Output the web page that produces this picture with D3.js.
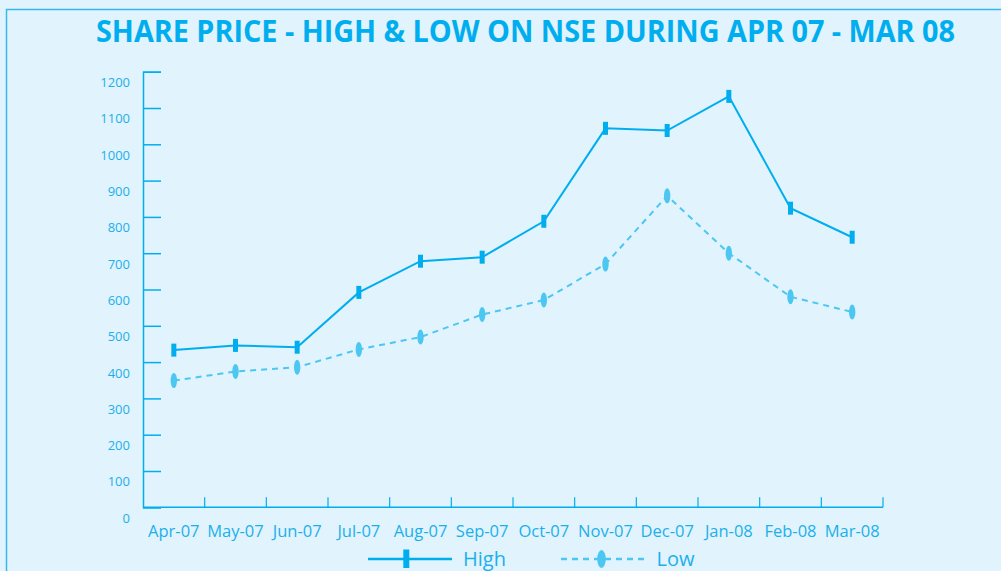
<!DOCTYPE html>
<html>
<head>
<meta charset="utf-8">
<script src="https://cdn.jsdelivr.net/npm/d3@7"></script>
<style>
  body { margin: 0; background: #e1f3fc; }
  svg { display: block; font-family: 'Open Sans', sans-serif; }
</style>
</head>
<body>
<div id="chart"></div>
<script>
// data
var months = ['Apr-07', 'May-07', 'Jun-07', 'Jul-07', 'Aug-07', 'Sep-07',
              'Oct-07', 'Nov-07', 'Dec-07', 'Jan-08', 'Feb-08', 'Mar-08'];
var high = [433, 446, 441, 592, 678, 689, 788, 1044, 1038, 1132, 824, 744];
var low = [349, 374, 386, 435, 469, 531, 571, 670, 858, 700, 580, 538];
var y_ticks = [0, 100, 200, 300, 400, 500, 600, 700, 800, 900, 1000, 1100, 1200];

var chart_width = 1001;
var chart_height = 571;
var high_color = '#00aeef';
var low_color = '#4cc7f2';
var text_color = '#1bb0ec';

var svg = d3.select('#chart')
  .append('svg')
  .attr('width', chart_width)
  .attr('height', chart_height);

// background + frame (left and top edges show)
svg.append('rect')
  .attr('width', chart_width)
  .attr('height', chart_height)
  .attr('fill', '#e1f3fc');
svg.append('path')
  .attr('d', 'M6.5,' + chart_height + 'V9.5H' + chart_width)
  .attr('fill', 'none')
  .attr('stroke', '#3ab7ec')
  .attr('stroke-width', 1.5);

// title
svg.append('text')
  .attr('x', 96)
  .attr('y', 42)
  .attr('textLength', 859)
  .attr('lengthAdjust', 'spacingAndGlyphs')
  .attr('font-size', 30)
  .attr('font-weight', 'bold')
  .attr('fill', high_color)
  .text('SHARE PRICE - HIGH & LOW ON NSE DURING APR 07 - MAR 08');

// scales
var x_scale = d3.scaleBand()
  .domain(months)
  .range([143, 883]);

var y_scale = d3.scaleLinear()
  .domain([0, 1200])
  .range([507.3, 71.7]);

// y axis: ticks point inward, labels sit a little below their ticks
var y_axis = svg.append('g')
  .attr('transform', 'translate(143,0)')
  .call(d3.axisLeft(y_scale)
    .tickValues(y_ticks)
    .tickFormat(d3.format('d'))
    .tickSize(-18)
    .tickPadding(13));
y_axis.select('.domain').attr('stroke', high_color).attr('stroke-width', 1.5);
y_axis.selectAll('.tick line').attr('stroke', high_color).attr('stroke-width', 1.5);
y_axis.selectAll('.tick text')
  .attr('fill', text_color)
  .attr('font-size', 13)
  .attr('font-family', "'Open Sans', sans-serif")
  .attr('dy', '1.15em');

// x axis line and boundary ticks
svg.append('line')
  .attr('x1', 143).attr('x2', 883)
  .attr('y1', y_scale(0)).attr('y2', y_scale(0))
  .attr('stroke', high_color)
  .attr('stroke-width', 1.5);

svg.selectAll('.xtick')
  .data(months)
  .enter()
  .append('line')
  .attr('class', 'xtick')
  .attr('x1', (d) => x_scale(d) + x_scale.bandwidth())
  .attr('x2', (d) => x_scale(d) + x_scale.bandwidth())
  .attr('y1', y_scale(0))
  .attr('y2', y_scale(0) - 10)
  .attr('stroke', high_color)
  .attr('stroke-width', 1.2);

svg.selectAll('.xlabel')
  .data(months)
  .enter()
  .append('text')
  .attr('class', 'xlabel')
  .attr('x', (d) => x_scale(d) + x_scale.bandwidth() / 2)
  .attr('y', 537)
  .attr('text-anchor', 'middle')
  .attr('font-size', 16.5)
  .attr('fill', text_color)
  .text((d) => d);

var cx = (d, i) => x_scale(months[i]) + x_scale.bandwidth() / 2;

var line = d3.line()
  .x(cx)
  .y((d) => y_scale(d));

// low series (dashed, ellipse markers)
svg.append('path')
  .datum(low)
  .attr('d', line)
  .attr('fill', 'none')
  .attr('stroke', low_color)
  .attr('stroke-width', 2)
  .attr('stroke-dasharray', '6,5');

svg.selectAll('.low-mark')
  .data(low)
  .enter()
  .append('ellipse')
  .attr('class', 'low-mark')
  .attr('cx', cx)
  .attr('cy', (d) => y_scale(d))
  .attr('rx', 3.2)
  .attr('ry', 7.5)
  .attr('fill', low_color);

// high series (solid, bar markers)
svg.append('path')
  .datum(high)
  .attr('d', line)
  .attr('fill', 'none')
  .attr('stroke', high_color)
  .attr('stroke-width', 2);

svg.selectAll('.high-mark')
  .data(high)
  .enter()
  .append('rect')
  .attr('class', 'high-mark')
  .attr('x', (d, i) => cx(d, i) - 2.5)
  .attr('y', (d) => y_scale(d) - 6.5)
  .attr('width', 5)
  .attr('height', 13)
  .attr('fill', high_color);

// legend
var legend = svg.append('g');
legend.append('line')
  .attr('x1', 368).attr('x2', 452)
  .attr('y1', 559).attr('y2', 559)
  .attr('stroke', high_color)
  .attr('stroke-width', 2.5);
legend.append('rect')
  .attr('x', 403.3).attr('y', 549.5)
  .attr('width', 6).attr('height', 18.5)
  .attr('fill', high_color);
legend.append('text')
  .attr('x', 463).attr('y', 566)
  .attr('font-size', 20)
  .attr('fill', text_color)
  .text('High');

legend.append('line')
  .attr('x1', 561).attr('x2', 645)
  .attr('y1', 559).attr('y2', 559)
  .attr('stroke', low_color)
  .attr('stroke-width', 2.5)
  .attr('stroke-dasharray', '6,5');
legend.append('ellipse')
  .attr('cx', 601.5).attr('cy', 559)
  .attr('rx', 4.3).attr('ry', 9)
  .attr('fill', low_color);
legend.append('text')
  .attr('x', 656.5).attr('y', 566)
  .attr('font-size', 20)
  .attr('fill', text_color)
  .text('Low');
</script>
</body>
</html>
